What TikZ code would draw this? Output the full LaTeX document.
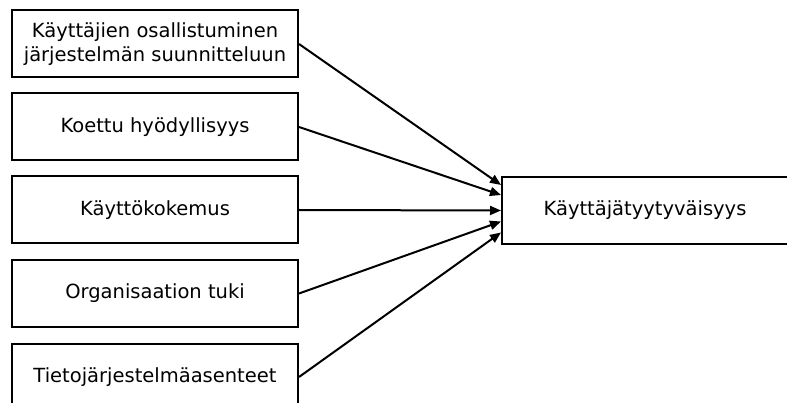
\documentclass[tikz,border=0pt]{standalone}
\usepackage{fontspec}
\setmainfont{DejaVu Sans}
\usetikzlibrary{arrows.meta}

\begin{document}
\begin{tikzpicture}
            [x=1pt, y=-1pt, >={Triangle[length=11pt,width=9pt]},
             factor/.style={draw=black, line width=2pt, minimum width=286pt,
                            minimum height=67pt, align=center, font=\fontsize{19.5}{23.5}\selectfont},
             link/.style={->, line width=2pt}]
            \clip (0, 0) rectangle (787, 403);
            \node[factor] (osall) at (155, 44) {Käyttäjien osallistuminen\\järjestelmän suunnitteluun};
            \node[factor] (hyoty) at (155, 127) {Koettu hyödyllisyys};
            \node[factor] (kokem) at (155, 210) {Käyttökokemus};
            \node[factor] (tuki) at (155, 293.5) {Organisaation tuki};
            \node[factor] (asent) at (155, 377) {Tietojärjestelmäasenteet};
            \node[factor] (tyyt) at (645, 210.5) {Käyttäjätyytyväisyys};

            \path [link] (osall.east) edge ([yshift=25.5pt]tyyt.west);
            \path [link] (hyoty.east) edge ([yshift=15.5pt]tyyt.west);
            \path [link] (kokem.east) edge (tyyt.west);
            \path [link] (tuki.east) edge ([yshift=-11pt]tyyt.west);
            \path [link] (asent.east) edge ([yshift=-22pt]tyyt.west);
        \end{tikzpicture}
\end{document}
